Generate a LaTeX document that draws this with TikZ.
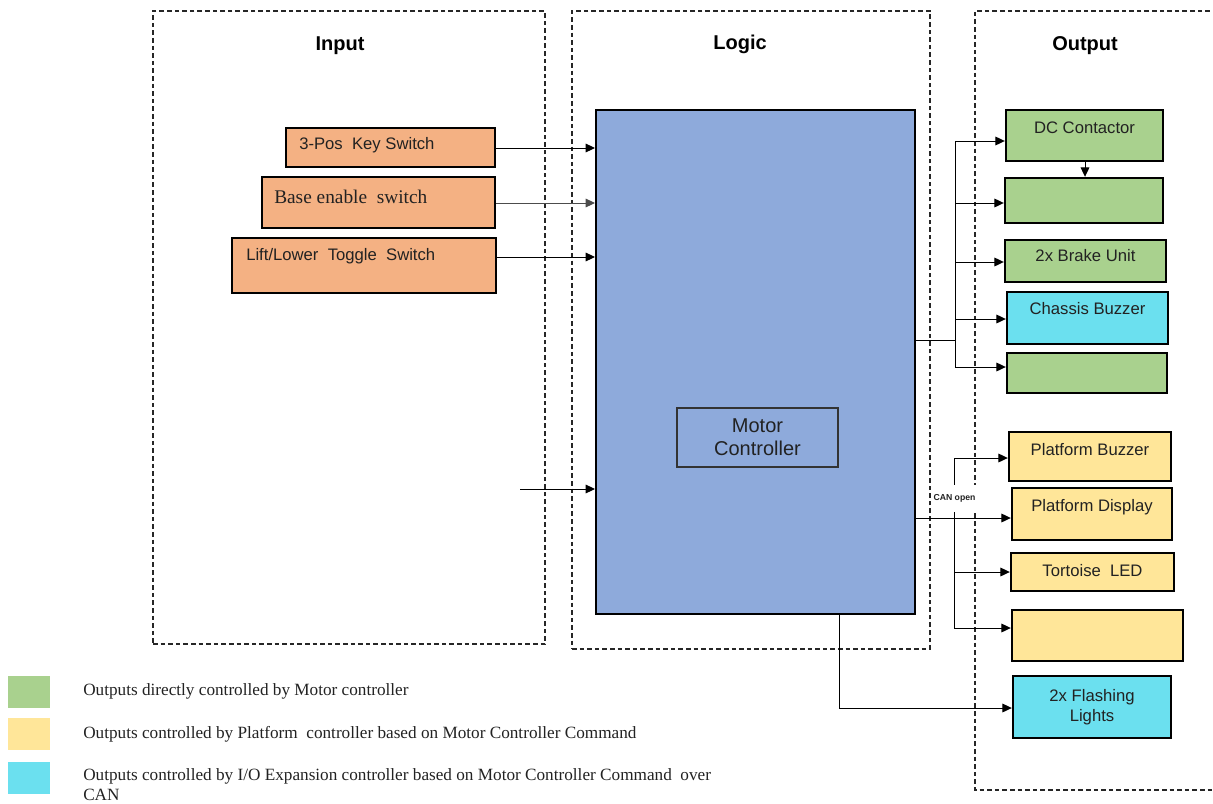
\documentclass[tikz,border=0pt]{standalone}
\usepackage{fontspec}
\setmainfont{Liberation Sans}
\newfontfamily\serifface{Liberation Serif}
\usetikzlibrary{arrows.meta,fit}
\definecolor{inorange}{HTML}{F4B183}
\definecolor{logicblue}{HTML}{8EAADB}
\definecolor{outgreen}{HTML}{A9D18E}
\definecolor{outyellow}{HTML}{FFE699}
\definecolor{outcyan}{HTML}{6BE0EF}
\definecolor{inktext}{HTML}{222222}
\begin{document}
\begin{tikzpicture}[x=0.75pt,y=-0.75pt,
  panel/.style={draw=black!85, line width=0.8pt, dash pattern=on 3.5pt off 2.2pt, inner sep=0pt},
  blockbox/.style={draw=black, line width=1.8pt, inner sep=0pt},
  head/.style={font=\bfseries\fontsize{15}{18}\selectfont, inner sep=0pt},
  boxtext/.style={font=\fontsize{12.5}{15}\selectfont, text=inktext, inner sep=0pt},
  legtext/.style={font=\serifface\fontsize{12.9}{15}\selectfont, text=inktext, inner sep=0pt, anchor=west},
  legsq/.style={inner sep=0pt, draw=none},
  wire/.style={draw=black, line width=0.75pt},
  arr/.style={wire, -{Triangle[length=7pt,width=6.5pt]}},
]
\useasboundingbox (0,0) rectangle (1213,803);

% ---- section frames ----
\node[panel, fit={(153,11)(545,644)}] (inpanel) {};
\node[panel, fit={(572,11)(930,649)}] (logicpanel) {};
\draw[panel] (1225,11) -- (975,11) -- (975,790) -- (1225,790);
\coordinate (outpanel) at (975,11);

\node[head] (hin) at (340,46) {Input};
\node[head] (hlogic) at (740,44) {Logic};
\node[head] (hout) at (1085,46) {Output};

% ---- inputs ----
\node[blockbox, fill=inorange, fit={(286,128)(495,167)}] (key) {};
\node[boxtext, anchor=west] (keyt) at (299,145) {3-Pos\ \ Key Switch};
\node[blockbox, fill=inorange, fit={(262,177)(495,228)}] (base) {};
\node[boxtext, anchor=west, font=\serifface\fontsize{14.5}{17}\selectfont] (baset) at (274,197) {Base enable\ \ switch};
\node[blockbox, fill=inorange, fit={(232,238)(496,293)}] (lift) {};
\node[boxtext, anchor=west] (liftt) at (246,256) {Lift/Lower\ \ Toggle\ \ Switch};

% ---- logic ----
\node[draw=black, line width=1.5pt, fill=logicblue, inner sep=0pt, fit={(596,110)(915,614)}] (logic) {};
\node[draw=black!80, line width=0.9pt, inner sep=0pt, fit={(677,408)(838,467)}] (mc) {};
\node[font=\fontsize{15}{17.5}\selectfont, text=inktext, align=center, inner sep=0pt] (mct) at (mc.center) {Motor\\Controller};

% ---- outputs driven directly ----
\node[blockbox, fill=outgreen, fit={(1006,110)(1163,161)}] (dc) {};
\node[boxtext] (dct) at (1084.5,128) {DC Contactor};
\node[blockbox, fill=outgreen, fit={(1005,178)(1163,223)}] (g2) {};
\node[blockbox, fill=outgreen, fit={(1005,240)(1166,282)}] (brake) {};
\node[boxtext] (braket) at (1085.5,256) {2x Brake Unit};
\node[blockbox, fill=outcyan, fit={(1007,292)(1168,344)}] (cbuz) {};
\node[boxtext] (cbuzt) at (1087.5,309) {Chassis Buzzer};
\node[blockbox, fill=outgreen, fit={(1007,353)(1167,393)}] (g5) {};

% ---- outputs over CAN ----
\node[blockbox, fill=outyellow, fit={(1009,432)(1171,481)}] (pbuz) {};
\node[boxtext] (pbuzt) at (1090,450) {Platform Buzzer};
\node[blockbox, fill=outyellow, fit={(1012,488)(1172,540)}] (pdisp) {};
\node[boxtext] (pdispt) at (1092,507) {Platform Display};
\node[blockbox, fill=outyellow, fit={(1011,553)(1174,591)}] (tled) {};
\node[boxtext] (tledt) at (1092.5,571) {Tortoise\ \ LED};
\node[blockbox, fill=outyellow, fit={(1012,610)(1183,661)}] (y4) {};
\node[blockbox, fill=outcyan, fit={(1013,676)(1171,738)}] (flash) {};
\node[boxtext, align=center] (flasht) at (flash.center) {2x Flashing\\Lights};

% ---- input wiring ----
\draw[arr] (key.east |- 0,148) -- (logic.west |- 0,148);
\draw[arr, draw=black!70] (base.east |- 0,203) -- (logic.west |- 0,203);
\draw[arr] (lift.east |- 0,257) -- (logic.west |- 0,257);
\coordinate (loosein) at (520,489);
\draw[arr] (loosein) -- (logic.west |- loosein);

% ---- direct output bus ----
\coordinate (busin) at (955,340);
\coordinate (bustop) at (955,141);
\coordinate (busbot) at (955,367);
\draw[wire] (logic.east |- busin) -- (busin);
\draw[wire] (bustop) -- (busbot);
\draw[arr] (bustop) -- (dc.west |- bustop);
\draw[arr] (955,203) -- (g2.west |- 0,203);
\draw[arr] (955,262) -- (brake.west |- 0,262);
\draw[arr] (955,319) -- (cbuz.west |- 0,319);
\draw[arr] (busbot) -- (g5.west |- busbot);
\draw[arr] (dc.south -| 1085,0) -- (g2.north -| 1085,0);

% ---- CAN open bus ----
\coordinate (cantop) at (954,458);
\coordinate (canbot) at (954,628);
\draw[wire] (cantop) -- (canbot);
\draw[arr] (logic.east |- 0,518) -- (pdisp.west |- 0,518);
\draw[arr] (cantop) -- (pbuz.west |- cantop);
\draw[arr] (954,572) -- (tled.west |- 0,572);
\draw[arr] (canbot) -- (y4.west |- canbot);
\node[fill=white, inner sep=0pt, minimum width=34pt, minimum height=20pt,
      font=\bfseries\fontsize{6.5}{7}\selectfont, text=inktext] (canlbl) at (954.5,498.5) {CAN open};

% ---- expansion output ----
\coordinate (mcdrop) at (839,708);
\draw[arr] (logic.south -| mcdrop) -- (mcdrop) -- (flash.west |- mcdrop);

% ---- legend ----
\node[legsq, fill=outgreen, fit={(8,676)(50,708)}] (lg1) {};
\node[legsq, fill=outyellow, fit={(8,718)(50,750)}] (lg2) {};
\node[legsq, fill=outcyan, fit={(8,762)(50,794)}] (lg3) {};
\node[legtext] (lt1) at (83,691) {Outputs directly\ controlled by Motor controller};
\node[legtext] (lt2) at (83,734) {Outputs controlled by Platform\ \ controller based on Motor Controller\ Command};
\node[legtext, anchor=north west, align=left] (lt3) at (83,768) {Outputs controlled by I/O Expansion\ controller\ based on Motor Controller\ Command\ \ over\\CAN};
\end{tikzpicture}
\end{document}
